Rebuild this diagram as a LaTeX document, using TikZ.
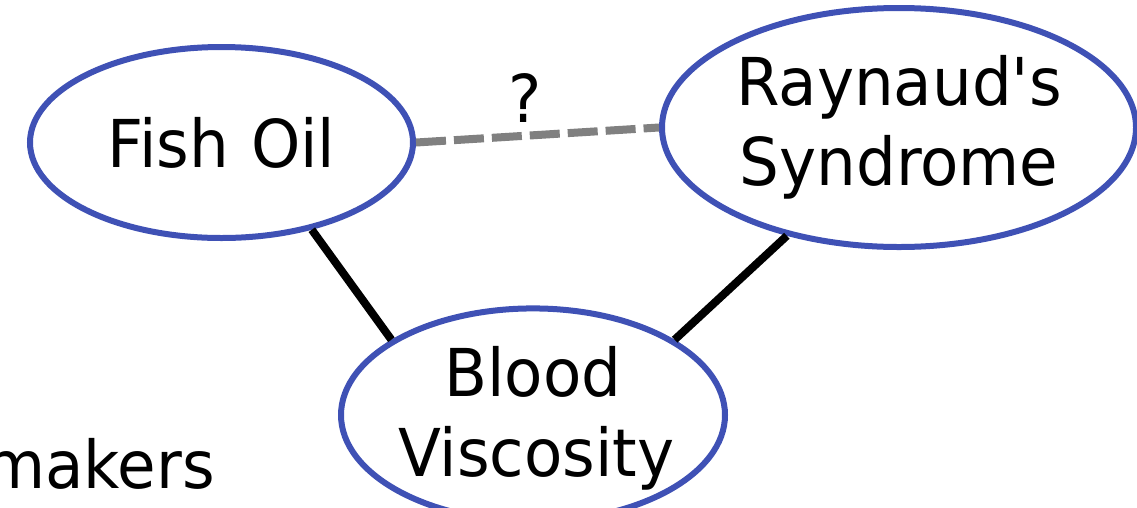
\documentclass[tikz,border=0pt]{standalone}
\usepackage{fontspec}
\setmainfont{DejaVu Sans}[FakeStretch=0.95, Ligatures=TeXOff]
\usetikzlibrary{shapes.geometric}
\definecolor{nodeblue}{HTML}{3F51B5}
\definecolor{dashgray}{HTML}{808080}
\tikzset{
  bubble/.style={ellipse, draw=nodeblue, line width=6pt, inner sep=0pt,
    align=center, font=\fontsize{66}{80}\selectfont},
  plaintext/.style={inner sep=0pt, font=\fontsize{66}{80}\selectfont},
  link/.style={draw=black, line width=8pt},
  unsure/.style={draw=dashgray, line width=8pt, dash pattern=on 30pt off 8pt}
}
\begin{document}
\begin{tikzpicture}[x=1pt,y=-1pt]
\useasboundingbox (0,0) rectangle (1137,507);
\node[bubble, text width=250pt, minimum width=383pt, minimum height=191pt] (fish) at (221.5,142.5) {Fish Oil};
\node[bubble, text width=330pt, minimum width=474pt, minimum height=239pt] (ray) at (899,127.5) {Raynaud's\\Syndrome};
\node[bubble, text width=270pt, minimum width=384pt, minimum height=190pt] (blood) at (533,415) {\rule{0pt}{57pt}Blood\\Viscosity};
\node[plaintext, anchor=base east] (makers) at (215,488) {makers};
\draw[unsure] (fish.east) -- node[pos=0.45, above=9pt, inner sep=0pt, font=\fontsize{66}{80}\selectfont] (q) {?} (ray.west);
\draw[link] (fish.-44) -- (blood.152.2);
\draw[link] (ray.-136.8) -- (blood.28.7);
\end{tikzpicture}
\end{document}
